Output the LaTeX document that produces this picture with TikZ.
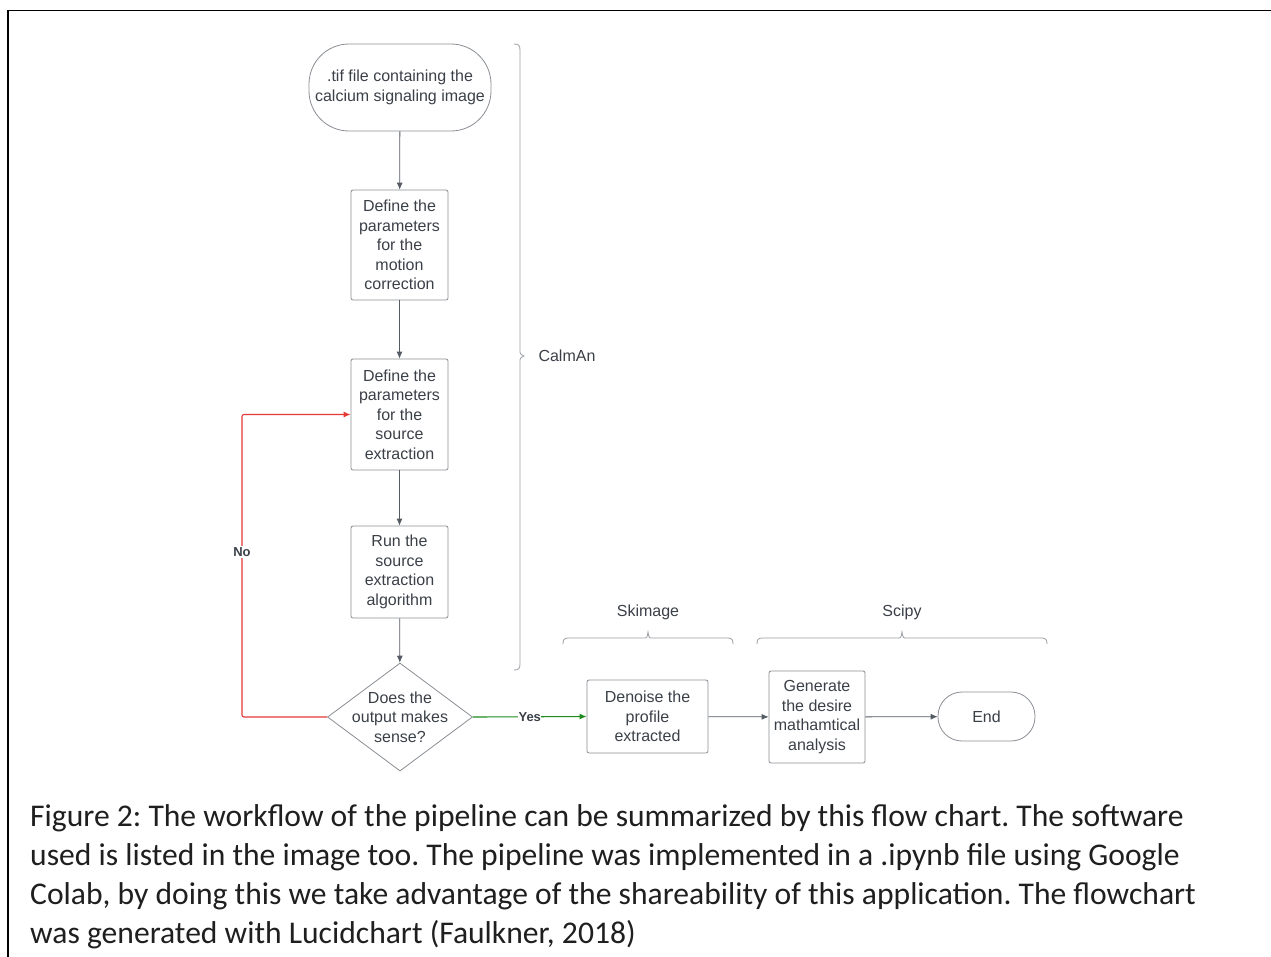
\documentclass[tikz,border=0pt]{standalone}
\usepackage{fontspec}
\setmainfont{Liberation Sans}
\newfontfamily\capfont{Carlito}
\usetikzlibrary{shapes.geometric,arrows.meta}
\definecolor{txt}{HTML}{3B4048}
\definecolor{edgec}{HTML}{8A8E94}
\definecolor{arr}{HTML}{555B64}
\definecolor{nored}{HTML}{E53935}
\definecolor{yesgreen}{HTML}{1E8C1E}
\definecolor{bracec}{HTML}{9A9EA4}
\begin{document}
\frenchspacing
\begin{tikzpicture}[x=1pt,y=-1pt,
  box/.style={draw=edgec, line width=0.8pt, rounded corners=2pt, font=\fontsize{16}{19.5}\selectfont, text=txt, align=center, inner sep=0pt},
  term/.style={box},
  arrow/.style={draw=arr, line width=0.8pt, -{Latex[length=7pt,width=6pt]}},
  bracel/.style={draw=bracec, line width=0.8pt},
  lbl/.style={font=\fontsize{16}{19.5}\selectfont, text=txt}]
\useasboundingbox (0,0) rectangle (1271,956);
\fill[white] (0,0) rectangle (1271,956);
\draw[line width=1.6pt, black] (8,960) -- (8,10.5) -- (1275,10.5);

\node[term, minimum width=182pt, minimum height=87pt, rounded corners=40pt] (start) at (400,87.5) {.tif file containing the\\calcium signaling image};
\node[box, minimum width=97pt, minimum height=110pt] (b1) at (399.5,245) {Define the\\parameters\\for the\\motion\\correction};
\node[box, minimum width=97pt, minimum height=111pt] (b2) at (399.5,414.5) {Define the\\parameters\\for the\\source\\extraction};
\node[box, minimum width=97pt, minimum height=92pt] (b3) at (399.5,572) {Run the\\source\\extraction\\algorithm};
\node[diamond, draw=edgec, line width=0.8pt, minimum width=145pt, minimum height=108pt, inner sep=0pt,
  label={[lbl, align=center]center:Does the\\output makes\\sense?}] (dec) at (400,717) {};
\node[box, minimum width=121pt, minimum height=73pt] (b4) at (647.5,716.5) {Denoise the\\profile\\extracted};
\node[box, minimum width=96pt, minimum height=92pt] (b5) at (817,717) {Generate\\the desire\\mathamtical\\analysis};
\node[term, minimum width=97pt, minimum height=49pt, rounded corners=24pt] (end) at (986.5,716.5) {End};

\draw[arrow] (start) -- (b1);
\draw[arrow] (b1) -- (b2);
\draw[arrow] (b2) -- (b3);
\draw[arrow] (b3) -- (dec);
\draw[arrow] (b4) -- (b5);
\draw[arrow] (b5) -- (end);

\coordinate (nc1) at (242,717);
\coordinate (nc2) at (242,414.5);
\draw[draw=nored, line width=1.1pt, rounded corners=2pt, -{Latex[length=7pt,width=6pt]}] (dec.west) -- (nc1) -- (nc2) -- (b2.west);
\node[fill=white, inner sep=1pt, font=\bfseries\fontsize{13}{15}\selectfont, text=txt] (no) at (242,552) {No};
\draw[draw=yesgreen, line width=1.1pt, -{Latex[length=7pt,width=6pt]}] (dec.east) -- node[fill=white, inner sep=0.5pt, font=\bfseries\fontsize{13}{15}\selectfont, text=txt] (yes) {Yes} (b4.west);

% braces
\draw[bracel] (514,44) .. controls (518,44) and (520,45) .. (520,50) -- (520,350) .. controls (520,354) .. (524,356) .. controls (520,358) .. (520,362) -- (520,664) .. controls (520,669) and (518,670) .. (514,670);
\node[lbl, anchor=west] (calman) at (535,356) {CalmAn};
\draw[bracel] (563,644) .. controls (563,640) and (564,638) .. (568,638) -- (643,638) .. controls (647,638) .. (648,632) .. controls (649,638) .. (653,638) -- (728,638) .. controls (732,638) and (733,640) .. (733,644);
\node[lbl] (skimage) at (648,612) {Skimage};
\draw[bracel] (757,644) .. controls (757,640) and (758,638) .. (762,638) -- (897,638) .. controls (901,638) .. (902,632) .. controls (903,638) .. (907,638) -- (1042,638) .. controls (1046,638) and (1047,640) .. (1047,644);
\node[lbl] (scipy) at (902,612) {Scipy};

\node[anchor=north west, inner sep=0pt, align=left, text={black!88}, font=\capfont\fontsize{31.6}{39}\selectfont] (cap) at (30,804.5) {Figure 2: The workflow of the pipeline can be summarized by this flow chart. The software\\used is listed in the image too. The pipeline was implemented in a .ipynb file using Google\\Colab, by doing this we take advantage of the shareability of this application. The flowchart\\was generated with Lucidchart (Faulkner, 2018)};
\end{tikzpicture}
\end{document}
